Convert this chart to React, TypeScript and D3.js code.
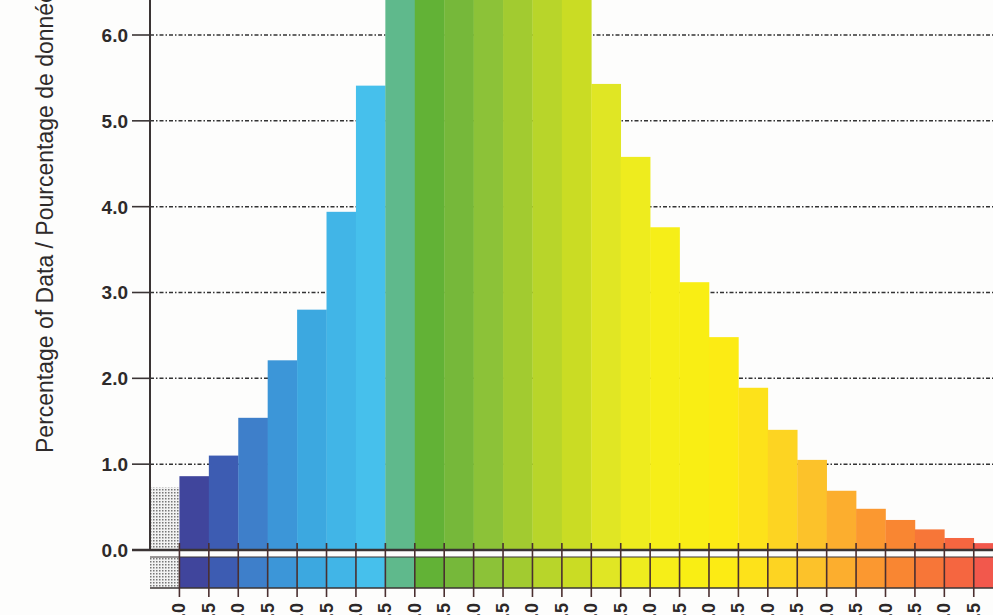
import * as d3 from 'd3';

// histogram bins, left to right (percentage of data)
const binValues = [
  0.73, 0.86, 1.1, 1.54, 2.21, 2.8, 3.94, 5.41, 6.9, 7.6, 8.1, 8.3, 8.0, 7.4, 6.6,
  5.43, 4.58, 3.76, 3.12, 2.48, 1.89, 1.4, 1.05, 0.69, 0.48, 0.35, 0.24, 0.14, 0.08,
];

const binColors = [
  '#c4c4c4', '#40459c', '#3d5cb2', '#3e7fca', '#3c96d8', '#3ca8e0', '#41b5e7', '#46c0ec',
  '#5fb98c', '#62b236', '#76b83a', '#8cc238', '#a2cb30', '#b8d52a', '#cadc24', '#e0e624',
  '#eeec1e', '#f6ee18', '#f9ee14', '#fceb14', '#fde21a', '#fdd422', '#fcc22a', '#fcae2e',
  '#fb9830', '#f98632', '#f77638', '#f56640', '#f2584c',
];

const yTicks = [0, 1, 2, 3, 4, 5, 6];

const xTickLabels = [
  '-7.0', '-6.5', '-6.0', '-5.5', '-5.0', '-4.5', '-4.0', '-3.5', '-3.0', '-2.5',
  '-2.0', '-1.5', '-1.0', '-0.5', '0.0', '0.5', '1.0', '1.5', '2.0', '2.5',
  '3.0', '3.5', '4.0', '4.5', '5.0', '5.5', '6.0', '6.5',
];

const yTitle = 'Percentage of Data / Pourcentage de données';

export default function App() {
  const width = 993;
  const height = 615;
  const axisX = 150;
  const binW = 29.42;

  const x = d3.scaleLinear([0, binValues.length], [axisX, axisX + binValues.length * binW]);
  const y = d3.scaleLinear([0, 6], [550, 35]);
  const fmt = d3.format('.1f');

  const stripTop = 557;
  const stripBottom = 588;
  const ink = '#3a3434';

  return (
    <svg
      width={width}
      height={height}
      style={{ position: 'absolute', left: 0, top: 0, background: '#fdfdfc' }}
      fontFamily="'Liberation Sans', Arial, sans-serif"
    >
      <defs>
        <pattern id="greyDots" width={3} height={3} patternUnits="userSpaceOnUse">
          <rect width={3} height={3} fill="#f2f2f2" />
          <rect width={1.5} height={1.5} fill="#777" />
        </pattern>
        <clipPath id="plot">
          <rect x={0} y={0} width={width} height={height} />
        </clipPath>
      </defs>

      {/* grid lines */}
      {yTicks.filter((t) => t > 0).map((t) => (
        <line
          key={'g' + t}
          x1={axisX}
          x2={width}
          y1={y(t)}
          y2={y(t)}
          stroke="#333"
          strokeWidth={1.5}
          strokeDasharray="4 2 1.5 2"
        />
      ))}

      {/* bars */}
      <g clipPath="url(#plot)">
        {binValues.map((v, i) => (
          <rect
            key={'b' + i}
            x={x(i)}
            y={y(v)}
            width={x(i + 1) - x(i) + 0.3}
            height={y(0) - y(v)}
            fill={i === 0 ? 'url(#greyDots)' : binColors[i]}
          />
        ))}
        {/* colour strip below the axis */}
        {binValues.map((v, i) => (
          <rect
            key={'s' + i}
            x={x(i)}
            y={stripTop}
            width={x(i + 1) - x(i) + 0.3}
            height={stripBottom - stripTop}
            fill={i === 0 ? 'url(#greyDots)' : binColors[i]}
          />
        ))}
      </g>

      {/* white gap and frame lines */}
      <rect x={axisX} y={551} width={width - axisX} height={5.5} fill="#fdfdfc" />
      <line x1={132} x2={width} y1={y(0)} y2={y(0)} stroke={ink} strokeWidth={2.6} />
      <line x1={axisX} x2={width} y1={stripTop} y2={stripTop} stroke={ink} strokeWidth={1.2} />
      <line x1={axisX} x2={width} y1={stripBottom} y2={stripBottom} stroke={ink} strokeWidth={1.6} />

      {/* x ticks */}
      {xTickLabels.map((lab, i) => (
        <g key={'x' + i}>
          <line
            x1={x(i + 1)}
            x2={x(i + 1)}
            y1={543}
            y2={597}
            stroke="#4a2f30"
            strokeWidth={1.6}
          />
          <text
            transform={`translate(${x(i + 1) + 6},603) rotate(-90)`}
            textAnchor="end"
            fontSize={18}
            fontWeight="bold"
            fill="#2c2828"
          >
            {lab}
          </text>
        </g>
      ))}

      {/* y axis */}
      <line x1={axisX} x2={axisX} y1={0} y2={y(0)} stroke={ink} strokeWidth={2} />
      {yTicks.map((t) => (
        <g key={'y' + t}>
          <line x1={132} x2={axisX} y1={y(t)} y2={y(t)} stroke={ink} strokeWidth={1.6} />
          <text
            x={128}
            y={y(t)}
            dy="0.36em"
            textAnchor="end"
            fontSize={19}
            fontWeight="bold"
            fill="#2e2a2a"
          >
            {fmt(t)}
          </text>
        </g>
      ))}

      <text
        transform="translate(53,453) rotate(-90)"
        textAnchor="start"
        fontSize={23}
        fill="#2e2a2a"
      >
        {yTitle}
      </text>
    </svg>
  );
}
